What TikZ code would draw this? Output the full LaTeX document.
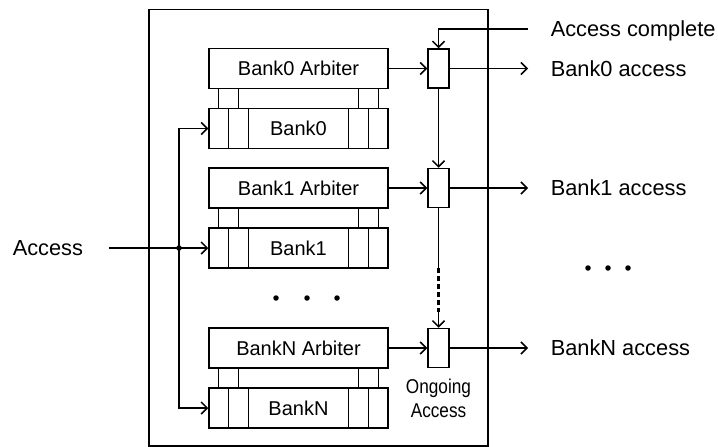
\documentclass[tikz,border=0pt]{standalone}
\usepackage{fontspec}
\setmainfont{Liberation Sans}
\newfontfamily\narrowfont[FakeStretch=0.86]{Liberation Sans}
\usetikzlibrary{arrows.meta}

\begin{document}
\begin{tikzpicture}[x=1pt,y=-1pt,
  line width=1.5pt,
  tip/.style={-{Straight Barb[length=6pt,width=12pt,line width=1.5pt]}},
  box/.style={draw, inner sep=0pt, minimum width=179pt, minimum height=40pt,
    font=\fontsize{20}{24}\selectfont, text height=14.3pt, text depth=0pt},
  regbox/.style={draw, inner sep=0pt, minimum width=21pt, minimum height=39pt},
  outlabel/.style={inner sep=0pt, anchor=west,
    font=\fontsize{21.8}{26}\selectfont, text height=15.6pt, text depth=0pt},
  smalllabel/.style={inner sep=0pt, align=center,
    font=\narrowfont\fontsize{20}{24}\selectfont},
  dot/.style={circle, fill, inner sep=0pt, minimum size=5.5pt}]

\useasboundingbox (0,0) rectangle (718,447);

% enclosing block
\node (chip) [draw, inner sep=0pt, minimum width=339pt, minimum height=436.5pt] at (318.5,227.5) {};

% one arbiter, bank and ongoing-access register per bank
\foreach \n/\y in {0/68.5, 1/188, N/348} {
  \node (arb\n) [box] at (298.5,\y) {Bank\n\ Arbiter};
  \node (bank\n) [box] at (298.5,\y+60) {Bank\n};
  \node (reg\n) [regbox] at (438.5,\y) {};
  % port slices at both ends of the bank
  \foreach \dx in {20,40,140,160}
    \draw ([xshift=\dx pt]bank\n.north west) -- ([xshift=\dx pt]bank\n.south west);
  % links between arbiter and bank
  \foreach \dx in {10,30,150,170}
    \draw ([xshift=\dx pt]arb\n.south west) -- ([xshift=\dx pt]bank\n.north west);
  \draw[tip] (arb\n.east) -- (reg\n.west);
  \coordinate (out\n) at (528,\y);
  \draw[tip] (reg\n.east) -- (out\n);
  \node (outlbl\n) [outlabel] at (550,\y) {Bank\n\ access};
}

% incoming access bus
\node (acclbl) [outlabel] at (12,248) {Access};
\coordinate (accin) at (109,248);
\coordinate (bus) at (179,248);
\draw[tip] (accin) -- (bank1.west);
\node (busdot) [dot] at (bus) {};
\draw[tip] (bus) |- (bank0.west);
\draw[tip] (bus) |- (bankN.west);

% completion signal and register chain
\coordinate (done) at (528,29);
\node (donelbl) [outlabel] at (550,29) {Access complete};
\draw[tip] (done) -| (reg0.north);
\draw[tip] (reg0.south) -- (reg1.north);
\coordinate (gapA) at (438.5,268);
\coordinate (gapB) at (438.5,312);
\draw (reg1.south) -- (gapA);
\draw[line width=2.8pt, dash pattern=on 5pt off 3pt] (gapA) -- (gapB);
\draw[tip] (gapB) -- (regN.north);
\node (ongoing) [smalllabel] at (438.5,398) {Ongoing\\Access};

% ellipses
\node (ea) [dot] at (276,298) {};
\node (eb) [dot] at (307,298) {};
\node (ec) [dot] at (337,298) {};
\node (ed) [dot] at (588,268) {};
\node (ee) [dot] at (608,268) {};
\node (ef) [dot] at (628,268) {};

\end{tikzpicture}
\end{document}
